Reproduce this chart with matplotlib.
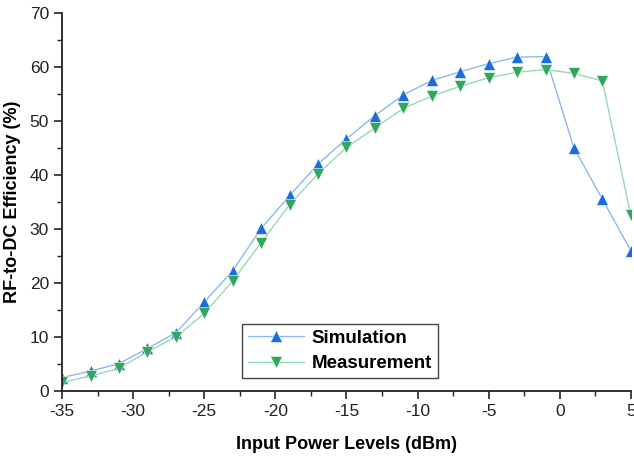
import numpy as np
import matplotlib
matplotlib.use('Agg')
import matplotlib.pyplot as plt
from matplotlib.ticker import MultipleLocator

# input power levels (dBm)
power = [-35, -33, -31, -29, -27, -25, -23, -21, -19, -17, -15,
         -13, -11, -9, -7, -5, -3, -1, 1, 3, 5]

# efficiency values (%)
simulation = [2.5, 3.7, 5.1, 7.9, 10.8, 16.5, 22.3, 30.1, 36.2, 42.0, 46.7,
              51.0, 54.8, 57.5, 59.1, 60.6, 61.8, 61.9, 45.0, 35.5, 26.0]
measurement = [1.6, 2.8, 4.2, 7.3, 10.0, 14.4, 20.4, 27.5, 34.5, 40.2, 45.1,
               48.7, 52.3, 54.6, 56.4, 58.0, 59.0, 59.5, 58.8, 57.4, 32.5]

plt.rcParams['font.family'] = ['Liberation Sans', 'DejaVu Sans']
plt.rcParams['axes.unicode_minus'] = False

fig = plt.figure(figsize=(6.34, 4.58), dpi=100)
ax = fig.add_axes([0.098, 0.146, 0.897, 0.826])

ax.plot(power, simulation, color='#8bb8f0', lw=1.0, marker='^', ms=8.8,
        mfc='#1a6ddb', mec='white', mew=0.4, label='Simulation')
ax.plot(power, measurement, color='#97d9b0', lw=1.0, marker='v', ms=8.8,
        mfc='#2fa85c', mec='white', mew=0.4, label='Measurement')

ax.set_xlim(-35, 5)
ax.set_ylim(0, 70)
ax.xaxis.set_major_locator(MultipleLocator(5))
ax.xaxis.set_minor_locator(MultipleLocator(2.5))
ax.yaxis.set_major_locator(MultipleLocator(10))
ax.yaxis.set_minor_locator(MultipleLocator(5))

for side in ['top', 'right']:
    ax.spines[side].set_visible(False)
for side in ['left', 'bottom']:
    ax.spines[side].set_linewidth(1.3)
    ax.spines[side].set_color('#222222')

ax.tick_params(which='major', direction='out', length=6, width=1.2,
               labelsize=12.5, colors='#222222')
ax.tick_params(which='minor', direction='out', length=3.5, width=1.0,
               colors='#222222')

ax.set_xlabel('Input Power Levels (dBm)', fontsize=13, fontweight='bold',
              labelpad=12)
ax.set_ylabel('RF-to-DC Efficiency (%)', fontsize=13, fontweight='bold',
              labelpad=6)

leg = ax.legend(loc='lower left', bbox_to_anchor=(0.31, 0.025),
                prop={'size': 13.5, 'weight': 'bold'}, fancybox=False,
                framealpha=1, edgecolor='#444444', handlelength=3.0,
                borderpad=0.3, labelspacing=0.45, handletextpad=0.4,
                borderaxespad=0.2)
leg.get_frame().set_linewidth(1.0)

fig.savefig('out.png', dpi=100)
